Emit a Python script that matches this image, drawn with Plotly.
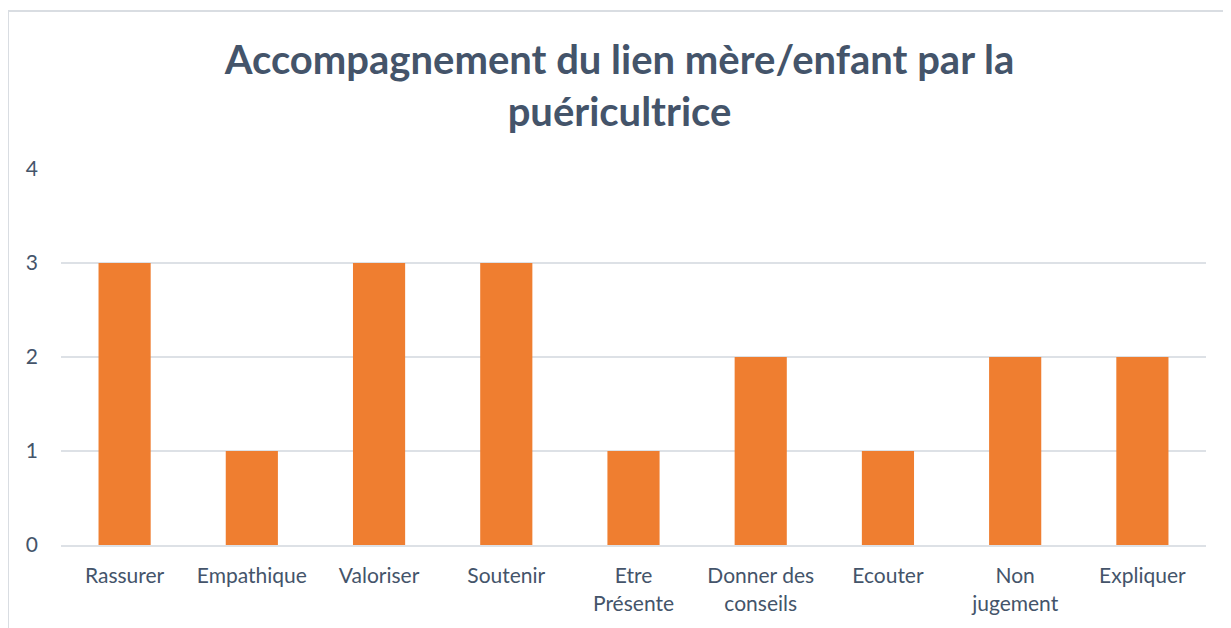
import plotly.graph_objects as go

categories = ["Rassurer", "Empathique", "Valoriser", "Soutenir", "Etre<br>Présente",
              "Donner des<br>conseils", "Ecouter", "Non<br>jugement", "Expliquer"]
values = [3, 1, 3, 3, 1, 2, 1, 2, 2]
y_ticks = [0, 1, 2, 3, 4]
title_text = "Accompagnement du lien mère/enfant par la<br>puéricultrice"

text_color = "#44546A"
grid_color = "#DDE1E6"

fig = go.Figure()
fig.add_trace(go.Bar(
    x=categories, y=values,
    marker=dict(color="#EF7E30", line=dict(width=0)),
    hoverinfo="x+y",
))

fig.update_layout(
    width=1223, height=620,
    margin=dict(l=53, r=25, t=161, b=83),
    paper_bgcolor="white", plot_bgcolor="white",
    bargap=0.59,
    showlegend=False,
    font=dict(family="Lato", color=text_color, size=21),
    title=dict(text="<b>" + title_text + "</b>", x=0.5, xanchor="center",
               y=0.894, yanchor="middle",
               font=dict(family="Lato", size=40, color=text_color)),
    xaxis=dict(showgrid=False, showline=True, linecolor=grid_color, linewidth=2,
               tickfont=dict(size=21, color=text_color), ticks="",
               ticklabelstandoff=11),
    yaxis=dict(range=[0, 4], tickvals=y_ticks, showgrid=True, gridcolor=grid_color,
               gridwidth=2, zeroline=False, showline=False, ticks="",
               tickfont=dict(size=21, color=text_color), ticklabelstandoff=22),
    shapes=[dict(type="rect", xref="paper", yref="paper",
                 x0=-0.0463, x1=1.2, y0=-0.3, y1=1.42,
                 line=dict(color="#D9DDE2", width=2), fillcolor="rgba(0,0,0,0)",
                 layer="below")],
)

fig.write_html("out.html")
